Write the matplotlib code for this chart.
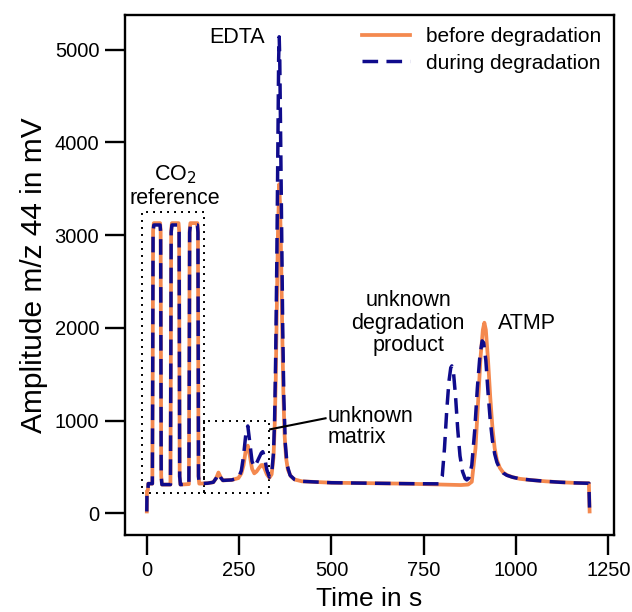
import matplotlib
matplotlib.use("Agg")
import matplotlib.pyplot as plt
from matplotlib.patches import Rectangle

plt.rcParams["font.family"] = ["Liberation Sans", "DejaVu Sans"]

# chromatogram traces, time in s / amplitude in mV
t_before = [0, 0.5, 3, 4, 15,
            16, 17, 19, 36, 37.5, 39, 41,
            64, 65, 66, 68, 86, 87.5, 89, 91,
            114, 115, 116, 118, 137, 138.5, 140, 142,
            165, 180, 188, 194, 200, 206, 230, 248, 256, 262, 268, 273.5, 279,
            285, 291, 297, 304, 310, 314, 319, 325, 332, 338, 343, 346, 349,
            352, 355, 358.5, 361, 364, 367, 370, 373, 377, 382, 390, 400, 420,
            500, 600, 700, 800, 850, 870, 880, 890, 897, 904, 910, 914, 918,
            924, 930, 936, 942, 948, 956, 965, 975, 990, 1010, 1040, 1080,
            1120, 1160, 1197, 1199]
v_before = [20, 240, 250, 320, 320,
            1500, 3050, 3130, 3130, 3050, 400, 310,
            310, 1500, 3050, 3130, 3130, 3050, 400, 310,
            315, 1500, 3050, 3130, 3130, 3050, 400, 320,
            325, 335, 380, 440, 390, 355, 360, 380, 430, 520, 680, 730, 620,
            480, 431, 450, 490, 520, 521, 480, 420, 384, 420, 600, 900, 1400,
            2200, 3000, 3550, 3300, 2700, 1900, 1250, 850, 600, 470, 400, 365, 345,
            330, 325, 320, 310, 305, 310, 340, 700, 1200, 1700, 1980, 2056, 1980,
            1650, 1250, 920, 700, 575, 490, 440, 413, 390, 372, 359, 345,
            335, 328, 324, 20]

t_during = [0, 0.5, 3, 4, 15,
            16, 17, 19, 36, 37.5, 39, 41,
            64, 65, 66, 68, 86, 87.5, 89, 91,
            114, 115, 116, 118, 137, 138.5, 140, 142,
            165, 180, 188, 194, 200, 206, 230, 248, 256, 262, 268, 273.5, 279,
            285, 291, 297, 304, 310, 314, 319, 325, 332, 338, 343, 346, 349,
            352, 355, 357, 358.5, 360, 362, 365, 368, 371, 375, 380, 388, 400,
            420, 500, 600, 700, 790, 800, 806, 812, 818, 823, 826, 830, 836,
            842, 848, 855, 862, 866.5, 872, 880, 888, 895, 902, 908, 912, 918,
            924, 930, 936, 942, 948, 956, 965, 975, 990, 1010, 1040, 1080,
            1120, 1160, 1197, 1199]
v_during = [20, 240, 250, 320, 320,
            1500, 3030, 3110, 3110, 3030, 400, 310,
            310, 1500, 3030, 3110, 3110, 3030, 400, 310,
            315, 1500, 3030, 3110, 3110, 3030, 400, 320,
            325, 335, 380, 430, 385, 355, 360, 380, 460, 620, 850, 942, 760,
            560, 500, 540, 600, 650, 665, 600, 470, 390, 420, 650, 1000, 1700,
            2700, 4000, 4900, 5140, 4900, 4200, 3100, 2000, 1250, 750, 520, 410, 365,
            345, 330, 325, 320, 318, 400, 700, 1100, 1420, 1570, 1590, 1540, 1260,
            900, 620, 450, 375, 360, 380, 520, 900, 1350, 1700, 1860, 1840, 1650,
            1300, 1000, 780, 640, 550, 480, 435, 410, 390, 372, 359, 345,
            335, 328, 324, 20]

ORANGE = "#F4894F"
NAVY = "#0F0B8C"

fig = plt.figure(figsize=(6.32, 6.12), dpi=100)
ax = fig.add_axes([0.1978, 0.1258, 0.7737, 0.8497])

ax.plot(t_before, v_before, color=ORANGE, lw=2.7, label="before degradation",
        solid_joinstyle="round")
ax.plot(t_during, v_during, color=NAVY, lw=2.5, ls=(0, (4.5, 2.4)),
        label="during degradation")

ax.set_xlim(-59, 1265)
ax.set_ylim(-234, 5375)
ax.set_xticks([0, 250, 500, 750, 1000, 1250])
ax.set_yticks([0, 1000, 2000, 3000, 4000, 5000])
ax.tick_params(direction="out", length=14.5, width=1.7, labelsize=14.5, pad=4)
for s in ax.spines.values():
    s.set_linewidth(1.7)

ax.set_xlabel("Time in s", fontsize=19, labelpad=5)
ax.set_ylabel("Amplitude m/z 44 in mV", fontsize=21.5, labelpad=5)

# dotted boxes around the CO2 reference pulses and the matrix peaks
dot = (0, (1, 2.6))
ax.add_patch(Rectangle((-13.5, 216), 169.3, 3031, fill=False, ec="black",
                       lw=1.4, ls=dot))
ax.add_patch(Rectangle((155.8, 216), 175.2, 783, fill=False, ec="black",
                       lw=1.4, ls=dot))

fs = 15.5
ax.text(77, 3530, "CO$_2$\nreference", ha="center", va="center", fontsize=fs,
        linespacing=1.15)
ax.text(244, 5135, "EDTA", ha="center", va="center", fontsize=fs)
ax.text(490, 930, "unknown\nmatrix", ha="left", va="center", fontsize=fs,
        linespacing=1.05)
ax.plot([334, 484], [906, 1025], color="black", lw=1.5)
ax.text(708, 2050, "unknown\ndegradation\nproduct", ha="center", va="center",
        fontsize=fs, linespacing=1.1)
ax.text(1030, 2050, "ATMP", ha="center", va="center", fontsize=fs)

ax.legend(loc="upper right", frameon=False, fontsize=15, handlelength=2.3,
          borderaxespad=0.2, labelspacing=0.35, handletextpad=0.8)

fig.savefig("out.png", dpi=100)
